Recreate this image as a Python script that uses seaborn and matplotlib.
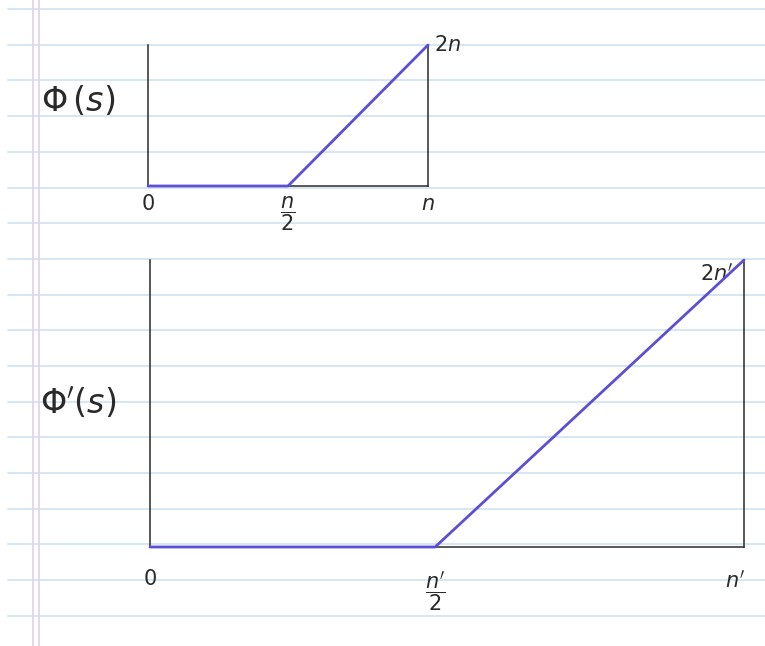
import matplotlib
matplotlib.use("Agg")
import matplotlib.pyplot as plt
import seaborn as sns
import pandas as pd

# ---- data (normalised: s in units of n, Phi in units of n) ----
s_top = [0.0, 0.5, 1.0]
phi_top = [0.0, 0.0, 2.0]
s_bot = [0.0, 0.48, 1.0]
phi_bot = [0.0, 0.0, 2.0]
xtick_top_pos = [0.0, 0.5, 1.0]
xtick_bot_pos = [0.0, 0.48, 0.985]
xtick_top = ["0", r"$\dfrac{n}{2}$", r"$n$"]
xtick_bot = ["0", r"$\dfrac{n'}{2}$", r"$n'$"]
top_label = r"$\Phi\,(s)$"
bot_label = r"$\Phi'(s)$"
top_end = r"$2n$"
bot_end = r"$2n'$"

sns.set_theme(style="white")
plt.rcParams['font.family'] = ['DejaVu Sans']

W, H = 765, 646
fig = plt.figure(figsize=(W / 100, H / 100), dpi=100)
fig.patch.set_facecolor("white")

# notebook paper background
bg = fig.add_axes([0, 0, 1, 1], zorder=0)
bg.set_xlim(0, W)
bg.set_ylim(H, 0)
bg.axis("off")
y = 9.0
while y < H:
    bg.plot([8, W], [y, y], color="#cfe1f1", lw=1.2)
    y += 35.7
for xm in (33, 39):
    bg.axvline(xm, color="#e4d2ee", lw=1.3)

purple = "#5b4fd3"
ink = "#2a2a2a"


def make_panel(rect, xs, ys, tpos, ticklabels, ylab, ylab_xy, endtxt, end_off, end_ha, pad):
    ax = fig.add_axes(rect, zorder=2)
    ax.patch.set_alpha(0)
    df = pd.DataFrame({"s": xs, "phi": ys})
    sns.lineplot(data=df, x="s", y="phi", ax=ax, color=purple, lw=2.0,
                 clip_on=False, zorder=5)
    ax.set_xlim(0, 1)
    ax.set_ylim(0, 2)
    ax.margins(0)
    for side in ("left", "bottom", "right"):
        ax.spines[side].set_visible(True)
        ax.spines[side].set_color(ink)
        ax.spines[side].set_linewidth(1.1)
    ax.spines["top"].set_visible(False)
    ax.set_yticks([])
    ax.set_xticks(tpos)
    ax.set_xticklabels(ticklabels, fontsize=15, color=ink, va="top")
    ax.tick_params(axis="x", length=0, pad=pad)
    ax.set_xlabel("")
    ax.set_ylabel(ylab, rotation=0, fontsize=24, color=ink, va="center", ha="center")
    ax.yaxis.set_label_coords(*ylab_xy)
    ax.annotate(endtxt, xy=(1, 2), xytext=end_off, textcoords="offset points",
                ha=end_ha, va="center", fontsize=15, color=ink)
    return ax


make_panel([148 / W, 1 - 186 / H, 280 / W, 141 / H], s_top, phi_top, xtick_top_pos,
           xtick_top, top_label, (-0.25, 0.6), top_end, (4, 0), "left", 6)
make_panel([150 / W, 1 - 547 / H, 594 / W, 287 / H], s_bot, phi_bot, xtick_bot_pos,
           xtick_bot, bot_label, (-0.12, 0.5), bot_end, (-8, -10), "right", 16)

fig.savefig("out.png", dpi=100)
